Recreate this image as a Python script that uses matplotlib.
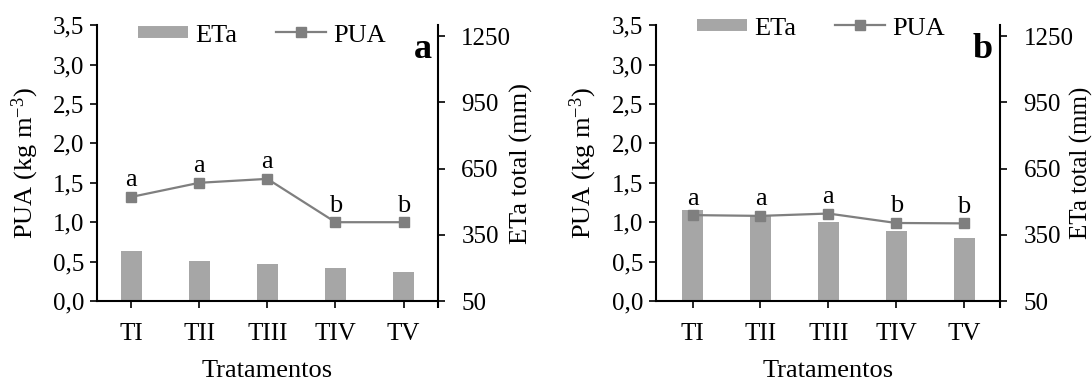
import matplotlib
matplotlib.use("Agg")
import matplotlib.pyplot as plt
from matplotlib.lines import Line2D
import numpy as np

plt.rcParams['font.family'] = ['Liberation Serif', 'DejaVu Serif']
plt.rcParams['mathtext.fontset'] = 'custom'
plt.rcParams['mathtext.rm'] = 'Liberation Serif'
plt.rcParams['mathtext.it'] = 'Liberation Serif:italic'

treatments = ['TI', 'TII', 'TIII', 'TIV', 'TV']
eta_a = [275, 232, 219, 198, 183]
pua_a = [1.32, 1.50, 1.55, 1.00, 1.00]
letters_a = ['a', 'a', 'a', 'b', 'b']
eta_b = [463, 433, 410, 368, 336]
pua_b = [1.09, 1.08, 1.11, 0.99, 0.985]
letters_b = ['a', 'a', 'a', 'b', 'b']

pua_ticks = [0.0, 0.5, 1.0, 1.5, 2.0, 2.5, 3.0, 3.5]
eta_ticks = [50, 350, 650, 950, 1250]

BAR = '#A6A6A6'
LINE = '#7F7F7F'

W, H = 1092, 380
fig = plt.figure(figsize=(W / 100, H / 100), dpi=100)


def panel(rect, eta, pua, letters, tag, xlim, legend_y, tag_x, rlabel_x, rlabel_fs):
    ax = fig.add_axes(rect)
    ax2 = ax.twinx()
    x = np.arange(len(treatments))
    ax2.bar(x, eta, width=0.31, color=BAR, zorder=1)
    ax.plot(x, pua, color=LINE, lw=1.6, marker='s', ms=6.5, zorder=3)
    for xi, yi, lt in zip(x, pua, letters):
        ax.annotate(lt, (xi, yi), xytext=(0, 4), textcoords='offset points',
                    ha='center', va='bottom', fontsize=19)
    ax.set_zorder(ax2.get_zorder() + 1)
    ax.patch.set_visible(False)

    ax.set_xlim(*xlim)
    ax.set_ylim(0, 3.5)
    ax2.set_ylim(50, 1300)
    ax.set_xticks(x)
    ax.set_xticklabels(treatments)
    ax.set_xticks([xlim[1]], minor=True)
    ax.set_yticks(pua_ticks)
    ax.set_yticklabels([f'{v:.1f}'.replace('.', ',') for v in pua_ticks])
    ax2.set_yticks(eta_ticks)
    ax2.set_yticklabels([str(v) for v in eta_ticks])

    for a in (ax, ax2):
        a.spines['top'].set_visible(False)
        for s in a.spines.values():
            s.set_linewidth(1.5)
            s.set_color('black')
    ax.spines['right'].set_visible(False)
    ax2.spines['left'].set_visible(False)
    ax2.spines['bottom'].set_visible(False)

    ax.tick_params(axis='y', direction='out', length=5, width=1.2, pad=4, labelsize=18)
    ax.tick_params(axis='x', which='major', direction='out', length=5, width=1.2, pad=11, labelsize=18)
    ax.tick_params(axis='x', which='minor', direction='out', length=5, width=1.5)
    ax2.tick_params(axis='y', direction='out', length=5, width=1.2, pad=12, labelsize=18)

    ax.text(-0.21, 0.5, 'PUA (kg m$^{\\mathrm{-3}}$)', rotation=90, ha='center',
            va='center', fontsize=19, transform=ax.transAxes)
    ax.text(rlabel_x, 0.5, 'ETa total (mm)', rotation=90, ha='center',
            va='center', fontsize=rlabel_fs, transform=ax.transAxes)
    cx = rect[0] + rect[2] / 2
    fig.text(cx, 1 - 377 / H, 'Tratamentos', ha='center', va='baseline', fontsize=19)

    handles = [Line2D([], [], color=BAR, lw=8.6, solid_capstyle='butt'),
               Line2D([], [], color=LINE, lw=1.6, marker='s', ms=6.5)]
    ax.legend(handles, ['ETa', 'PUA'], ncol=2, frameon=False, fontsize=19,
              loc='center left', bbox_to_anchor=(rect[0] + 41 / W, 1 - legend_y / H),
              bbox_transform=fig.transFigure, borderpad=0, borderaxespad=0,
              handlelength=1.9, handletextpad=0.25, columnspacing=1.5)
    fig.text(tag_x / W, 1 - 58 / H, tag, ha='right', va='baseline',
             fontsize=26, fontweight='bold')
    return ax


y0 = 1 - 301 / H
h = (301 - 25.2) / H
panel([97 / W, y0, (437.7 - 97) / W, h], eta_a, pua_a, letters_a, 'a', (-0.5, 4.5), 35, 432, 1.245, 19)
panel([656 / W, y0, (1000 - 656) / W, h], eta_b, pua_b, letters_b, 'b', (-0.54, 4.53), 28, 993, 1.236, 18)

fig.savefig('out.png', dpi=100)
